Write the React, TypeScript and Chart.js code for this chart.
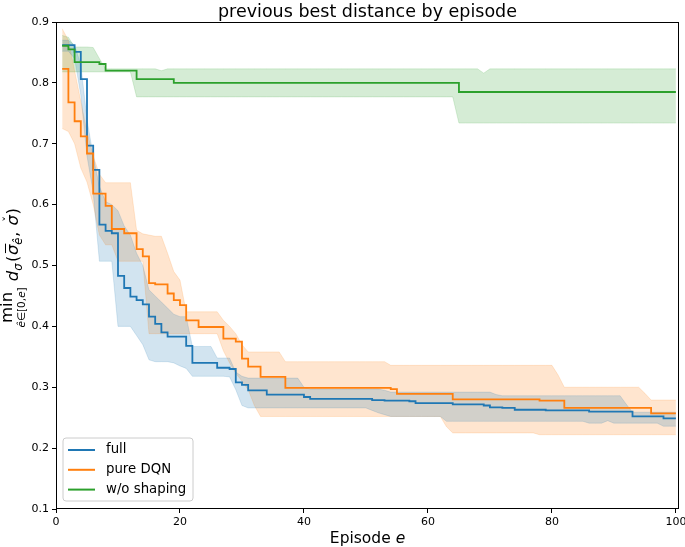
import { useEffect, useRef } from 'react';
import { Chart, registerables } from 'chart.js';

Chart.register(...registerables);

const FONT = "'DejaVu Sans', sans-serif";

const TITLE = 'previous best distance by episode';
const X_LABEL = 'Episode ';
const SERIES_NAMES = ['full', 'pure DQN', 'w/o shaping'];
const COLORS = ['#1f77b4', '#ff7f0e', '#2ca02c'];
const BAND_COLORS = ['rgba(31,119,180,0.2)', 'rgba(255,127,14,0.2)', 'rgba(44,160,44,0.2)'];

const X_TICKS = [0, 20, 40, 60, 80, 100];
const Y_TICKS = [0.1, 0.2, 0.3, 0.4, 0.5, 0.6, 0.7, 0.8, 0.9];

const episodes = Array.from({ length: 100 }, (_, i) => i + 1);

const fullMean = [
  0.862, 0.862, 0.851, 0.806, 0.697, 0.657, 0.567, 0.557, 0.553, 0.483,
  0.463, 0.449, 0.443, 0.436, 0.416, 0.404, 0.390, 0.383, 0.383, 0.383,
  0.368, 0.340, 0.340, 0.340, 0.340, 0.332, 0.332, 0.330, 0.308, 0.304,
  0.295, 0.295, 0.295, 0.288, 0.288, 0.288, 0.288, 0.288, 0.288, 0.284,
  0.281, 0.281, 0.281, 0.281, 0.281, 0.281, 0.281, 0.281, 0.281, 0.281,
  0.279, 0.279, 0.278, 0.278, 0.278, 0.278, 0.277, 0.274, 0.274, 0.274,
  0.274, 0.274, 0.274, 0.272, 0.272, 0.272, 0.272, 0.272, 0.270, 0.267,
  0.267, 0.266, 0.266, 0.263, 0.263, 0.263, 0.263, 0.263, 0.262, 0.262,
  0.262, 0.262, 0.262, 0.262, 0.262, 0.260, 0.260, 0.260, 0.260, 0.260,
  0.260, 0.260, 0.252, 0.252, 0.252, 0.252, 0.252, 0.249, 0.249, 0.249,
];
const fullHi = [
  0.870, 0.870, 0.862, 0.830, 0.740, 0.680, 0.630, 0.605, 0.600, 0.590,
  0.565, 0.550, 0.520, 0.500, 0.460, 0.450, 0.440, 0.430, 0.420, 0.416,
  0.416, 0.367, 0.367, 0.367, 0.367, 0.348, 0.348, 0.348, 0.325, 0.318,
  0.315, 0.315, 0.315, 0.315, 0.315, 0.315, 0.315, 0.315, 0.315, 0.300,
  0.297, 0.297, 0.297, 0.297, 0.297, 0.297, 0.297, 0.297, 0.297, 0.297,
  0.297, 0.297, 0.295, 0.292, 0.292, 0.292, 0.292, 0.292, 0.292, 0.292,
  0.292, 0.292, 0.292, 0.292, 0.292, 0.292, 0.292, 0.292, 0.292, 0.292,
  0.288, 0.286, 0.286, 0.286, 0.286, 0.286, 0.286, 0.286, 0.286, 0.286,
  0.286, 0.286, 0.286, 0.286, 0.286, 0.286, 0.286, 0.286, 0.286, 0.286,
  0.286, 0.272, 0.259, 0.259, 0.259, 0.259, 0.259, 0.259, 0.259, 0.259,
];
const fullLo = [
  0.852, 0.852, 0.840, 0.780, 0.680, 0.620, 0.507, 0.507, 0.507, 0.400,
  0.400, 0.400, 0.385, 0.370, 0.345, 0.342, 0.342, 0.342, 0.340, 0.335,
  0.331, 0.318, 0.318, 0.318, 0.318, 0.318, 0.318, 0.317, 0.296, 0.270,
  0.266, 0.266, 0.266, 0.266, 0.266, 0.266, 0.266, 0.266, 0.266, 0.266,
  0.266, 0.266, 0.266, 0.266, 0.266, 0.266, 0.266, 0.266, 0.266, 0.266,
  0.262, 0.258, 0.255, 0.252, 0.252, 0.252, 0.252, 0.252, 0.252, 0.252,
  0.252, 0.252, 0.244, 0.244, 0.244, 0.244, 0.244, 0.244, 0.244, 0.244,
  0.244, 0.244, 0.244, 0.244, 0.244, 0.244, 0.244, 0.244, 0.244, 0.244,
  0.244, 0.244, 0.244, 0.244, 0.244, 0.241, 0.241, 0.241, 0.245, 0.241,
  0.241, 0.241, 0.241, 0.241, 0.241, 0.241, 0.241, 0.236, 0.236, 0.236,
];

const dqnMean = [
  0.823, 0.768, 0.737, 0.712, 0.684, 0.618, 0.618, 0.598, 0.560, 0.560,
  0.553, 0.553, 0.527, 0.515, 0.471, 0.469, 0.469, 0.454, 0.443, 0.435,
  0.410, 0.410, 0.399, 0.399, 0.399, 0.399, 0.380, 0.380, 0.375, 0.347,
  0.334, 0.334, 0.317, 0.317, 0.317, 0.317, 0.299, 0.299, 0.299, 0.299,
  0.299, 0.299, 0.299, 0.299, 0.299, 0.299, 0.299, 0.299, 0.299, 0.299,
  0.299, 0.299, 0.299, 0.297, 0.289, 0.289, 0.289, 0.289, 0.289, 0.289,
  0.289, 0.289, 0.289, 0.280, 0.280, 0.280, 0.280, 0.280, 0.280, 0.280,
  0.280, 0.280, 0.280, 0.280, 0.280, 0.280, 0.280, 0.278, 0.278, 0.278,
  0.278, 0.266, 0.266, 0.266, 0.266, 0.266, 0.266, 0.266, 0.266, 0.266,
  0.266, 0.266, 0.266, 0.266, 0.266, 0.257, 0.257, 0.257, 0.257, 0.257,
];
const dqnHi = [
  0.889, 0.870, 0.820, 0.770, 0.720, 0.680, 0.650, 0.636, 0.636, 0.636,
  0.636, 0.636, 0.558, 0.552, 0.550, 0.548, 0.548, 0.520, 0.490, 0.476,
  0.424, 0.424, 0.424, 0.424, 0.424, 0.424, 0.410, 0.400, 0.388, 0.370,
  0.358, 0.358, 0.358, 0.358, 0.358, 0.358, 0.342, 0.342, 0.342, 0.342,
  0.342, 0.342, 0.342, 0.342, 0.342, 0.342, 0.342, 0.342, 0.342, 0.342,
  0.342, 0.342, 0.342, 0.336, 0.336, 0.336, 0.336, 0.336, 0.336, 0.336,
  0.336, 0.336, 0.336, 0.336, 0.336, 0.336, 0.336, 0.336, 0.336, 0.336,
  0.336, 0.336, 0.336, 0.336, 0.336, 0.336, 0.336, 0.336, 0.336, 0.336,
  0.320, 0.300, 0.300, 0.300, 0.300, 0.300, 0.300, 0.300, 0.300, 0.300,
  0.300, 0.300, 0.300, 0.300, 0.290, 0.279, 0.279, 0.279, 0.279, 0.279,
];
const dqnLo = [
  0.725, 0.720, 0.700, 0.660, 0.637, 0.600, 0.550, 0.534, 0.534, 0.507,
  0.507, 0.507, 0.507, 0.507, 0.388, 0.388, 0.388, 0.388, 0.388, 0.388,
  0.388, 0.388, 0.388, 0.388, 0.388, 0.388, 0.360, 0.340, 0.323, 0.310,
  0.296, 0.270, 0.252, 0.252, 0.252, 0.252, 0.252, 0.252, 0.252, 0.252,
  0.252, 0.252, 0.252, 0.252, 0.252, 0.252, 0.252, 0.252, 0.252, 0.252,
  0.252, 0.252, 0.252, 0.252, 0.252, 0.252, 0.252, 0.252, 0.252, 0.252,
  0.252, 0.252, 0.235, 0.225, 0.225, 0.225, 0.225, 0.225, 0.225, 0.225,
  0.225, 0.225, 0.225, 0.225, 0.225, 0.225, 0.225, 0.222, 0.222, 0.222,
  0.222, 0.222, 0.222, 0.222, 0.222, 0.222, 0.222, 0.222, 0.222, 0.222,
  0.222, 0.222, 0.222, 0.222, 0.222, 0.222, 0.222, 0.222, 0.222, 0.222,
];

const noShapeMean = [
  0.861, 0.855, 0.834, 0.834, 0.834, 0.834, 0.831, 0.820, 0.820, 0.820,
  0.820, 0.820, 0.806, 0.806, 0.806, 0.806, 0.806, 0.806, 0.800, 0.800,
  0.800, 0.800, 0.800, 0.800, 0.800, 0.800, 0.800, 0.800, 0.800, 0.800,
  0.800, 0.800, 0.800, 0.800, 0.800, 0.800, 0.800, 0.800, 0.800, 0.800,
  0.800, 0.800, 0.800, 0.800, 0.800, 0.800, 0.800, 0.800, 0.800, 0.800,
  0.800, 0.800, 0.800, 0.800, 0.800, 0.800, 0.800, 0.800, 0.800, 0.800,
  0.800, 0.800, 0.800, 0.800, 0.785, 0.785, 0.785, 0.785, 0.785, 0.785,
  0.785, 0.785, 0.785, 0.785, 0.785, 0.785, 0.785, 0.785, 0.785, 0.785,
  0.785, 0.785, 0.785, 0.785, 0.785, 0.785, 0.785, 0.785, 0.785, 0.785,
  0.785, 0.785, 0.785, 0.785, 0.785, 0.785, 0.785, 0.785, 0.785, 0.785,
];
const noShapeHi = [
  0.878, 0.875, 0.859, 0.859, 0.859, 0.858, 0.840, 0.823, 0.823, 0.823,
  0.823, 0.823, 0.823, 0.823, 0.823, 0.823, 0.820, 0.823, 0.823, 0.823,
  0.823, 0.823, 0.823, 0.823, 0.823, 0.823, 0.823, 0.823, 0.823, 0.823,
  0.823, 0.823, 0.823, 0.823, 0.823, 0.823, 0.823, 0.823, 0.823, 0.823,
  0.823, 0.823, 0.823, 0.823, 0.823, 0.823, 0.823, 0.823, 0.823, 0.823,
  0.823, 0.823, 0.823, 0.823, 0.823, 0.823, 0.823, 0.823, 0.823, 0.823,
  0.823, 0.823, 0.823, 0.823, 0.823, 0.823, 0.823, 0.823, 0.816, 0.823,
  0.823, 0.823, 0.823, 0.823, 0.823, 0.823, 0.823, 0.823, 0.823, 0.823,
  0.823, 0.823, 0.823, 0.823, 0.823, 0.823, 0.823, 0.823, 0.823, 0.823,
  0.823, 0.823, 0.823, 0.823, 0.823, 0.823, 0.823, 0.823, 0.823, 0.823,
];
const noShapeLo = [
  0.818, 0.818, 0.818, 0.818, 0.818, 0.818, 0.818, 0.818, 0.818, 0.818,
  0.818, 0.818, 0.777, 0.777, 0.777, 0.777, 0.777, 0.777, 0.777, 0.777,
  0.777, 0.777, 0.777, 0.777, 0.777, 0.777, 0.777, 0.777, 0.777, 0.777,
  0.777, 0.777, 0.777, 0.777, 0.777, 0.777, 0.777, 0.777, 0.777, 0.777,
  0.777, 0.777, 0.777, 0.777, 0.777, 0.777, 0.777, 0.777, 0.777, 0.777,
  0.777, 0.777, 0.777, 0.777, 0.777, 0.777, 0.777, 0.777, 0.777, 0.777,
  0.777, 0.777, 0.777, 0.777, 0.734, 0.734, 0.734, 0.734, 0.734, 0.734,
  0.734, 0.734, 0.734, 0.734, 0.734, 0.734, 0.734, 0.734, 0.734, 0.734,
  0.734, 0.734, 0.734, 0.734, 0.734, 0.734, 0.734, 0.734, 0.734, 0.734,
  0.734, 0.734, 0.734, 0.734, 0.734, 0.734, 0.734, 0.734, 0.734, 0.734,
];

const pts = (ys: number[]) => episodes.map((x, i) => ({ x, y: ys[i] }));

function drawYLabel(ctx: CanvasRenderingContext2D) {
  ctx.save();
  ctx.translate(18, 323);
  ctx.rotate(-Math.PI / 2);
  ctx.fillStyle = '#000';
  ctx.strokeStyle = '#000';
  ctx.textAlign = 'left';
  ctx.textBaseline = 'alphabetic';
  const big = 16.5;
  const small = 11.5;
  const sub = 10.5;
  ctx.font = `${big}px ${FONT}`;
  ctx.fillText('min', 0, -6);
  const minW = ctx.measureText('min').width;
  const subParts: [string, boolean][] = [['ê', true], ['∈[0,', false], ['e', true], [']', false]];
  let subW = 0;
  for (const [t, it] of subParts) {
    ctx.font = `${it ? 'italic ' : ''}${sub}px ${FONT}`;
    subW += ctx.measureText(t).width;
  }
  let sx = minW / 2 - subW / 2;
  for (const [t, it] of subParts) {
    ctx.font = `${it ? 'italic ' : ''}${sub}px ${FONT}`;
    ctx.fillText(t, sx, 6.5);
    sx += ctx.measureText(t).width;
  }
  let x = Math.max(minW, minW / 2 + subW / 2) + 6;
  ctx.font = `italic ${big}px ${FONT}`;
  ctx.fillText('d', x, 0);
  x += ctx.measureText('d').width;
  ctx.font = `italic ${small}px ${FONT}`;
  ctx.fillText('σ', x, 3.5);
  x += ctx.measureText('σ').width + 1.5;
  ctx.font = `${big}px ${FONT}`;
  ctx.fillText('(', x, 0);
  x += ctx.measureText('(').width + 0.5;
  ctx.font = `italic ${big}px ${FONT}`;
  ctx.fillText('σ', x, 0);
  const sw = ctx.measureText('σ').width;
  ctx.lineWidth = 1;
  ctx.beginPath();
  ctx.moveTo(x + 2, -12.5);
  ctx.lineTo(x + sw + 1, -12.5);
  ctx.stroke();
  x += sw;
  ctx.font = `italic ${small}px ${FONT}`;
  ctx.fillText('ê', x, 3.5);
  x += ctx.measureText('ê').width + 0.5;
  ctx.font = `${big}px ${FONT}`;
  ctx.fillText(', ', x, 0);
  x += ctx.measureText(', ').width + 1;
  ctx.font = `italic ${big}px ${FONT}`;
  ctx.fillText('σ', x, 0);
  const sw2 = ctx.measureText('σ').width;
  ctx.font = `${small}px ${FONT}`;
  ctx.textAlign = 'center';
  ctx.fillText('ˇ', x + sw2 / 2 + 1.5, -5.5);
  ctx.textAlign = 'left';
  x += sw2 + 0.5;
  ctx.font = `${big}px ${FONT}`;
  ctx.fillText(')', x, 0);
  ctx.restore();
}

const decorPlugin = {
  id: 'decor',
  afterDraw(chart: any) {
    const ctx: CanvasRenderingContext2D = chart.ctx;
    const a = chart.chartArea;
    ctx.save();
    ctx.strokeStyle = '#000';
    ctx.lineWidth = 1;
    ctx.strokeRect(Math.round(a.left) + 0.5, Math.round(a.top) + 0.5, Math.round(a.right - a.left) - 1, Math.round(a.bottom - a.top) - 1);
    ctx.fillStyle = '#000';
    ctx.font = `17.5px ${FONT}`;
    ctx.textAlign = 'center';
    ctx.textBaseline = 'alphabetic';
    ctx.fillText(TITLE, (a.left + a.right) / 2, 17);
    ctx.font = `15.5px ${FONT}`;
    const w1 = ctx.measureText(X_LABEL).width;
    ctx.font = `italic 15.5px ${FONT}`;
    const w2 = ctx.measureText('e').width;
    const cx = (a.left + a.right) / 2;
    ctx.textAlign = 'left';
    ctx.font = `15.5px ${FONT}`;
    ctx.fillText(X_LABEL, cx - (w1 + w2) / 2, 543);
    ctx.font = `italic 15.5px ${FONT}`;
    ctx.fillText('e', cx - (w1 + w2) / 2 + w1, 543);
    drawYLabel(ctx);
    const lx = 63, ly = 438, lw = 130, lh = 63, r = 3;
    ctx.beginPath();
    ctx.moveTo(lx + r, ly);
    ctx.lineTo(lx + lw - r, ly);
    ctx.quadraticCurveTo(lx + lw, ly, lx + lw, ly + r);
    ctx.lineTo(lx + lw, ly + lh - r);
    ctx.quadraticCurveTo(lx + lw, ly + lh, lx + lw - r, ly + lh);
    ctx.lineTo(lx + r, ly + lh);
    ctx.quadraticCurveTo(lx, ly + lh, lx, ly + lh - r);
    ctx.lineTo(lx, ly + r);
    ctx.quadraticCurveTo(lx, ly, lx + r, ly);
    ctx.closePath();
    ctx.fillStyle = 'rgba(255,255,255,0.8)';
    ctx.fill();
    ctx.strokeStyle = '#cccccc';
    ctx.lineWidth = 1;
    ctx.stroke();
    ctx.font = `13.3px ${FONT}`;
    ctx.textBaseline = 'middle';
    SERIES_NAMES.forEach((name, i) => {
      const yy = 450 + i * 19.8;
      ctx.strokeStyle = COLORS[i];
      ctx.lineWidth = 2;
      ctx.beginPath();
      ctx.moveTo(68, yy);
      ctx.lineTo(95, yy);
      ctx.stroke();
      ctx.fillStyle = '#000';
      ctx.fillText(name, 106, yy);
    });
    ctx.restore();
  },
};

const zeroPad = (s: any) => {
  s.paddingLeft = 0;
  s.paddingRight = 0;
  s.paddingTop = 0;
  s.paddingBottom = 0;
};

export default function App() {
  const ref = useRef<HTMLCanvasElement>(null);
  useEffect(() => {
    document.body.style.margin = '0';
    const canvas = ref.current!;
    const lineDs = (label: string, ys: number[], color: string) => ({
      label,
      data: pts(ys),
      borderColor: color,
      backgroundColor: color,
      borderWidth: 1.8,
      pointRadius: 0,
      stepped: 'before' as const,
      fill: false,
    });
    const bandDs = (ys: number[], color: string, fill: any) => ({
      label: '',
      data: pts(ys),
      borderColor: color,
      backgroundColor: color,
      borderWidth: 0.8,
      pointRadius: 0,
      tension: 0,
      fill,
    });
    const chart = new Chart(canvas, {
      type: 'line',
      data: {
        datasets: [
          lineDs(SERIES_NAMES[2], noShapeMean, COLORS[2]),
          lineDs(SERIES_NAMES[1], dqnMean, COLORS[1]),
          lineDs(SERIES_NAMES[0], fullMean, COLORS[0]),
          bandDs(fullLo, BAND_COLORS[0], false),
          bandDs(fullHi, BAND_COLORS[0], '-1'),
          bandDs(dqnLo, BAND_COLORS[1], false),
          bandDs(dqnHi, BAND_COLORS[1], '-1'),
          bandDs(noShapeLo, BAND_COLORS[2], false),
          bandDs(noShapeHi, BAND_COLORS[2], '-1'),
        ] as any,
      },
      options: {
        responsive: false,
        animation: false,
        devicePixelRatio: 1,
        events: [],
        layout: { autoPadding: false, padding: { top: 22, right: 6, left: 0, bottom: 0 } },
        plugins: {
          legend: { display: false },
          title: { display: false },
          tooltip: { enabled: false },
          filler: { drawTime: 'beforeDatasetsDraw' },
        } as any,
        scales: {
          x: {
            type: 'linear',
            min: 0,
            max: 100.5,
            afterBuildTicks: (s: any) => { s.ticks = X_TICKS.map((v) => ({ value: v })); },
            afterFit: (s: any) => { s.height = 38; zeroPad(s); },
            grid: { display: true, drawOnChartArea: false, drawTicks: true, tickLength: 4, color: '#000', lineWidth: 1 },
            border: { display: false },
            ticks: { color: '#000', font: { family: FONT, size: 11 }, padding: 3, maxRotation: 0, autoSkip: false, callback: (v: any) => String(v) },
          },
          y: {
            type: 'linear',
            min: 0.1,
            max: 0.9,
            afterBuildTicks: (s: any) => { s.ticks = Y_TICKS.map((v) => ({ value: v })); },
            afterFit: (s: any) => { s.width = 56; zeroPad(s); },
            grid: { display: true, drawOnChartArea: false, drawTicks: true, tickLength: 4, color: '#000', lineWidth: 1 },
            border: { display: false },
            ticks: { color: '#000', font: { family: FONT, size: 11 }, padding: 3, autoSkip: false, callback: (v: any) => Number(v).toFixed(1) },
          },
        },
      } as any,
      plugins: [decorPlugin],
    });
    return () => chart.destroy();
  }, []);
  return (
    <div style={{ position: 'absolute', left: 0, top: 0, width: 685, height: 547 }}>
      <canvas ref={ref} width={685} height={547} style={{ display: 'block', width: 685, height: 547 }} />
    </div>
  );
}
